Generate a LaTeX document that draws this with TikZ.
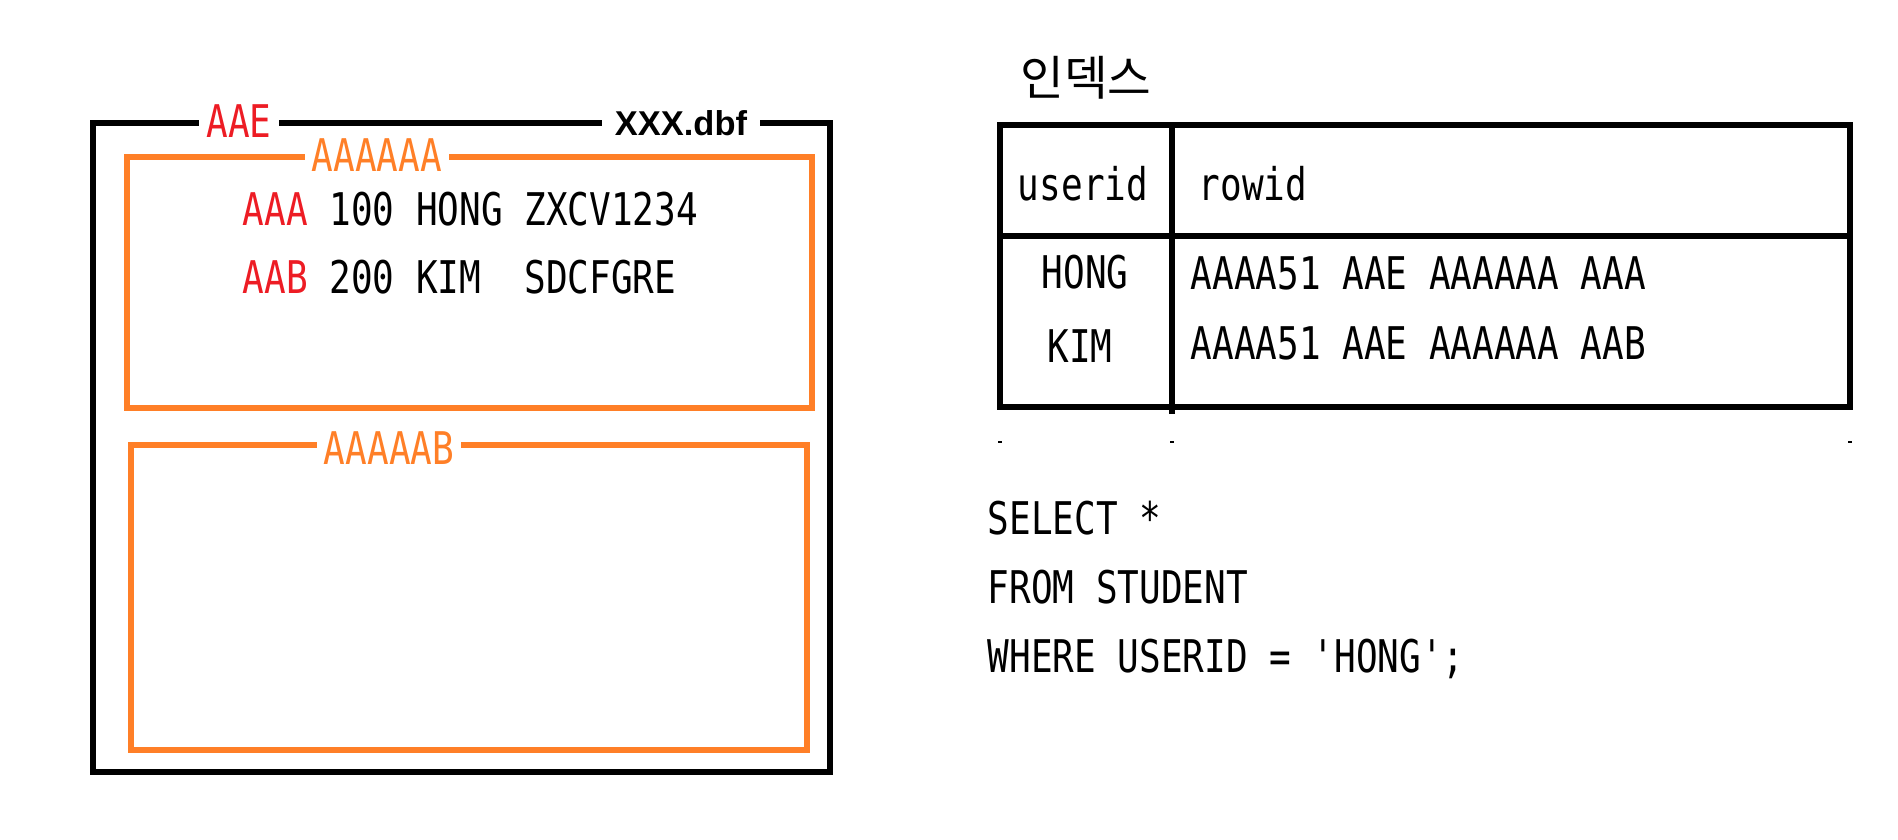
\documentclass[tikz,border=0pt]{standalone}
\usepackage{fontspec}
\newfontfamily\codefont[FakeStretch=0.8]{DejaVu Sans Mono}
\newfontfamily\krfont{Noto Sans CJK KR}
\newfontfamily\namefont{Liberation Sans}
\usetikzlibrary{positioning}
\definecolor{paintred}{HTML}{ED1C24}
\definecolor{paintorange}{HTML}{FF7F27}

\tikzset{
  filebox/.style={draw=black,line width=1.6pt},
  blockbox/.style={draw=paintorange,line width=1.5pt},
  tableline/.style={draw=black,line width=1.6pt},
  codetxt/.style={font=\codefont\fontsize{12.8}{15}\selectfont,inner sep=0pt,anchor=base west},
  edgetag/.style={codetxt,anchor=center,fill=white,inner xsep=2.1pt,inner ysep=0pt}
}

\begin{document}
\begin{tikzpicture}[x=0.01cm,y=-0.01cm]
  \useasboundingbox (0,0) rectangle (1898,840);
  % data file with its blocks
  \draw[filebox] (93,123) rectangle (830,772);
  \node[edgetag,text=paintred] (fileno) at (239,121) {AAE};
  \node[edgetag,inner xsep=3.6pt,font=\namefont\bfseries\fontsize{9.8}{12}\selectfont] (fname) at (681,123) {XXX.dbf};
  \draw[blockbox] (127,157) rectangle (812,408);
  \node[edgetag,text=paintorange] (blkA) at (377,155) {AAAAAA};
  \node[codetxt] (rowA) at (242,226) {\textcolor{paintred}{AAA} 100 HONG ZXCV1234};
  \node[codetxt] (rowB) at (242,294) {\textcolor{paintred}{AAB} 200 KIM\ \ SDCFGRE};
  \draw[blockbox] (131,445) rectangle (807,750);
  \node[edgetag,text=paintorange] (blkB) at (389,448) {AAAAAB};
  % index table
  \node[font=\krfont\fontsize{13.5}{16}\selectfont,inner sep=0pt] (idxname) at (1086,78) {인덱스};
  \draw[tableline] (1000,125) rectangle (1850,407);
  \draw[tableline] (1000,236) -- (1850,236);
  \draw[tableline] (1172,125) -- (1172,414);
  \foreach \x in {1000,1172,1850}{\draw[line width=0.4pt] (\x-2,442) -- (\x+2,442);}
  \node[codetxt,anchor=base] (colkey) at (1083,201) {userid};
  \node[codetxt] (colrid) at (1198,201) {rowid};
  \node[codetxt,anchor=base] (keyA) at (1085,288) {HONG};
  \node[codetxt,anchor=base] (keyB) at (1080,363) {KIM};
  \node[codetxt] (ridA) at (1190,290) {AAAA51 AAE AAAAAA AAA};
  \node[codetxt] (ridB) at (1190,360) {AAAA51 AAE AAAAAA AAB};
  % query
  \node[codetxt] (qsel) at (987,534) {SELECT *};
  \node[codetxt] (qfrom) at (987,603) {FROM STUDENT};
  \node[codetxt] (qwhere) at (987,672) {WHERE USERID = 'HONG';};
\end{tikzpicture}
\end{document}
